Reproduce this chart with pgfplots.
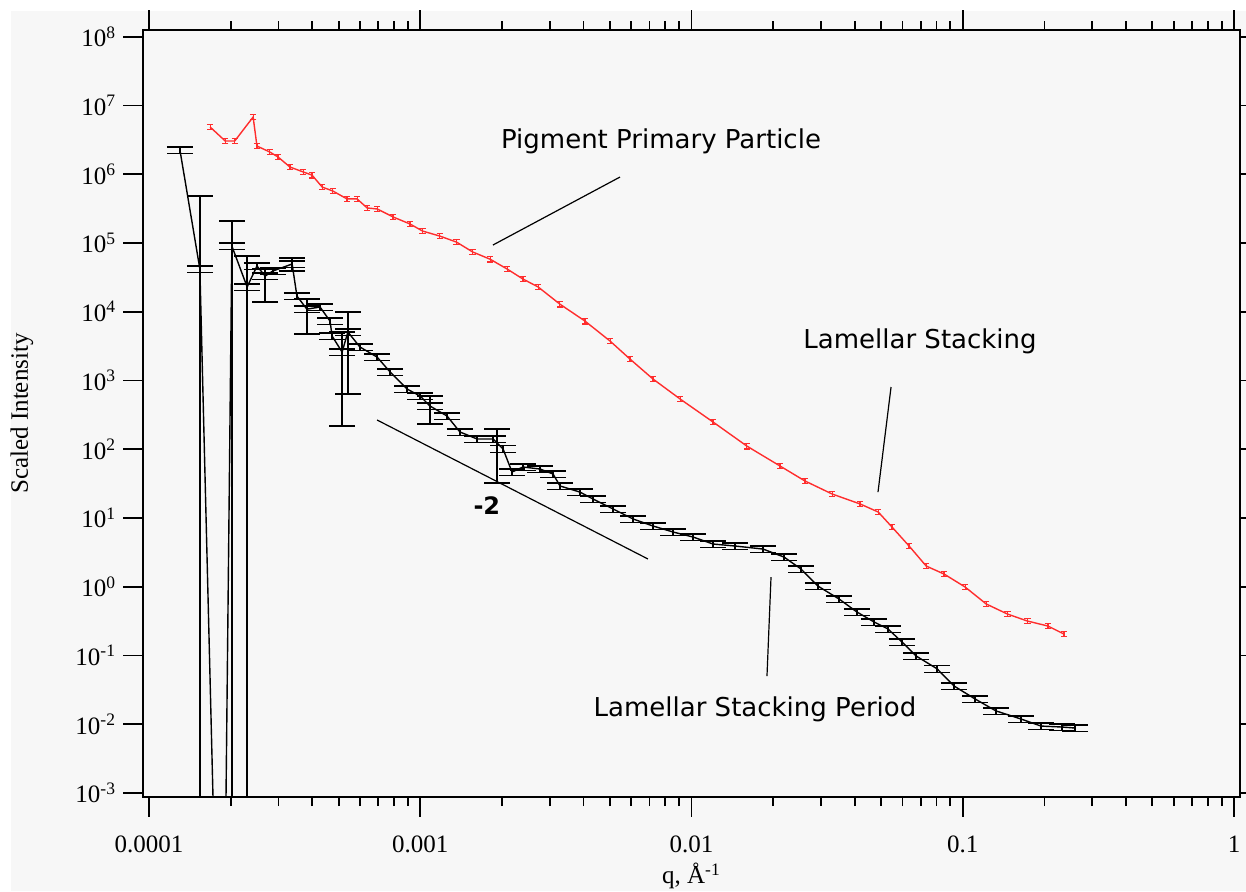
\documentclass[border=0pt]{standalone}
\usepackage{fontspec}
\setmainfont{Liberation Serif}
\newfontfamily\annfont{DejaVu Sans}
\usepackage{pgfplots}
\pgfplotsset{compat=1.18}
\definecolor{bg}{HTML}{F7F7F7}
\definecolor{pred}{RGB}{255,45,45}

\begin{document}
\begin{tikzpicture}
\useasboundingbox (-71.5pt,-47pt) rectangle (551.5pt,398.5pt);
\fill[bg] (-66pt,-47pt) rectangle (551.5pt,393pt);
\begin{axis}[
    scale only axis,
    width=548.5pt, height=383.5pt,
    xmode=log, ymode=log,
    xmin=9.5e-5, xmax=1.052,
    ymin=8.73e-4, ymax=1.252e8,
    axis line style={line width=1pt},
    tick align=outside,
    major tick length=10pt, minor tick length=4.5pt,
    every tick/.style={black, line width=0.9pt},
    yminorticks=false,
    xtick={1e-4,1e-3,1e-2,1e-1,1},
    xticklabels={0.0001,0.001,0.01,0.1,1},
    ytick={1e-3,1e-2,1e-1,1,1e1,1e2,1e3,1e4,1e5,1e6,1e7,1e8},
    yticklabels={10\textsuperscript{-3},10\textsuperscript{-2},10\textsuperscript{-1},10\textsuperscript{0},
      10\textsuperscript{1},10\textsuperscript{2},10\textsuperscript{3},10\textsuperscript{4},
      10\textsuperscript{5},10\textsuperscript{6},10\textsuperscript{7},10\textsuperscript{8}},
    tick label style={font=\fontsize{12.5}{14}\selectfont},
    xticklabel shift=6pt,
    xlabel={q, Å\textsuperscript{-1}},
    ylabel={Scaled Intensity},
    label style={font=\fontsize{12.5}{14}\selectfont},
    xlabel style={at={(axis description cs:0.5,-0.1134)}, anchor=base},
    ylabel style={at={(axis description cs:-0.1103,0.5)}, anchor=center},
    clip=true,
]

% lamellar stacking period (black)
\addplot[black, line width=0.7pt, mark=none,
    error bars/.cd, y dir=both, y fixed relative=0.11, error mark=|,
    error bar style={line width=0.7pt},
    error mark options={mark size=6.5pt, line width=0.7pt}]
coordinates {
(1.30e-4,2.25e6) (1.54e-4,4.18e4) (1.86e-4,4e-9) (2.02e-4,9.03e4) (2.30e-4,2.29e4)
(2.50e-4,4.62e4) (2.68e-4,3.30e4) (2.86e-4,3.91e4) (3.37e-4,4.94e4) (3.51e-4,1.69e4)
(3.82e-4,1.09e4) (4.27e-4,1.17e4) (4.65e-4,7.3e3) (4.73e-4,4.43e3) (5.15e-4,2.59e3)
(5.41e-4,5.07e3) (5.99e-4,3.07e3) (6.93e-4,2.19e3) (7.74e-4,1.33e3) (8.94e-4,751)
(9.98e-4,594) (1.086e-3,425) (1.255e-3,304) (1.401e-3,178) (1.619e-3,141)
(1.854e-3,141) (2.019e-3,101) (2.179e-3,46.6) (2.392e-3,55.1) (2.764e-3,51.5)
(3.087e-3,43.6) (3.275e-3,29.2) (3.88e-3,23.8) (4.33e-3,18.9) (5.14e-3,13.5)
(6.09e-3,9.66) (7.21e-3,7.64) (8.55e-3,6.25) (1.013e-2,5.28) (1.200e-2,4.18)
(1.446e-2,3.91) (1.835e-2,3.53) (2.193e-2,2.70) (2.533e-2,1.81) (2.926e-2,1.02)
(3.50e-2,0.662) (4.07e-2,0.429) (4.71e-2,0.307) (5.30e-2,0.243) (5.97e-2,0.157)
(6.73e-2,0.0982) (8.04e-2,0.064) (9.28e-2,0.036) (0.111,0.0233) (0.1326,0.0156)
(0.164,0.0119) (0.1943,0.0094) (0.232,0.0091) (0.2594,0.0088)
};

% larger error bars
\addplot[draw=none, mark=none,
    error bars/.cd, y dir=both, y explicit, error mark=|,
    error bar style={draw=black, line width=0.7pt},
    error mark options={draw=black, mark size=6.5pt, line width=0.7pt}]
coordinates {
(2.68e-4,3.30e4) += (0,9e3) -= (0,1.92e4)
(3.37e-4,4.94e4) += (0,1.1e4) -= (0,1.04e4)
(3.82e-4,1.09e4) += (0,4.4e3) -= (0,6.16e3)
(5.15e-4,2.59e3) += (0,2.48e3) -= (0,2373)
(5.41e-4,5.07e3) += (0,4.83e3) -= (0,4435)
(1.086e-3,425) += (0,169) -= (0,192)
(1.92e-3,141) += (0,56) -= (0,108.8)
};

% error bars running off the bottom
\addplot[black, line width=0.7pt] coordinates {(1.54e-4,4.82e5) (1.54e-4,1e-5)};
\addplot[black, line width=0.7pt] coordinates {(2.02e-4,2.08e5) (2.02e-4,1e-5)};
\addplot[black, line width=0.7pt] coordinates {(2.30e-4,6.46e4) (2.30e-4,1e-5)};
\addplot[black, only marks, mark=-, mark size=6.5pt, mark options={line width=0.7pt}]
coordinates {(1.54e-4,4.82e5) (2.02e-4,2.08e5) (2.30e-4,6.46e4)};

% pigment primary particle (red)
\addplot[pred, line width=0.7pt, mark=none,
    error bars/.cd, y dir=both, y fixed relative=0.09, error mark=|,
    error bar style={line width=0.6pt},
    error mark options={mark size=1.6pt, line width=0.6pt}]
coordinates {
(1.68e-4,4.86e6) (1.91e-4,3.04e6) (2.07e-4,3.04e6) (2.42e-4,6.79e6) (2.50e-4,2.57e6)
(2.79e-4,2.10e6) (2.99e-4,1.78e6) (3.31e-4,1.27e6) (3.70e-4,1.08e6) (3.99e-4,9.7e5)
(4.35e-4,6.5e5) (4.76e-4,5.7e5) (5.37e-4,4.37e5) (5.85e-4,4.37e5) (6.37e-4,3.23e5)
(6.94e-4,3.12e5) (7.94e-4,2.39e5) (9.16e-4,1.89e5) (1.02e-3,1.49e5) (1.18e-3,1.26e5)
(1.36e-3,1.03e5) (1.56e-3,7.4e4) (1.81e-3,5.8e4) (2.09e-3,4.18e4) (2.39e-3,2.99e4)
(2.72e-3,2.29e4) (3.27e-3,1.29e4) (4.05e-3,7.3e3) (5.01e-3,3.74e3) (5.93e-3,2.05e3)
(7.21e-3,1.05e3) (9.08e-3,537) (1.20e-2,249) (1.60e-2,111) (2.12e-2,57)
(2.62e-2,34.5) (3.30e-2,22.3) (4.18e-2,16.0) (4.88e-2,12.2) (5.48e-2,7.4)
(6.34e-2,3.91) (7.33e-2,2.0) (8.53e-2,1.53) (0.102,0.99) (0.122,0.561)
(0.146,0.401) (0.173,0.317) (0.206,0.268) (0.236,0.205)
};

% annotations
\draw[line width=0.6pt] (axis cs:1.853e-3,9.33e4) -- (axis cs:5.45e-3,9.1e5);
\draw[line width=0.6pt] (axis cs:5.44e-2,803) -- (axis cs:4.87e-2,23.8);
\draw[line width=0.6pt] (axis cs:1.964e-2,1.38) -- (axis cs:1.898e-2,0.0502);
\draw[line width=0.6pt] (axis cs:6.93e-4,266) -- (axis cs:6.91e-3,2.53);
\node[anchor=base, font=\annfont\fontsize{13}{15}\selectfont] at (axis cs:7.72e-3,2.33e6) {Pigment Primary Particle};
\node[anchor=base, font=\annfont\fontsize{13}{15}\selectfont] at (axis cs:6.96e-2,2.87e3) {Lamellar Stacking};
\node[anchor=base, font=\annfont\fontsize{13}{15}\selectfont] at (axis cs:1.714e-2,1.316e-2) {Lamellar Stacking Period};
\node[font=\annfont\bfseries\fontsize{12}{14}\selectfont] at (axis cs:1.76e-3,14.9) {-2};
\end{axis}
\end{tikzpicture}
\end{document}
